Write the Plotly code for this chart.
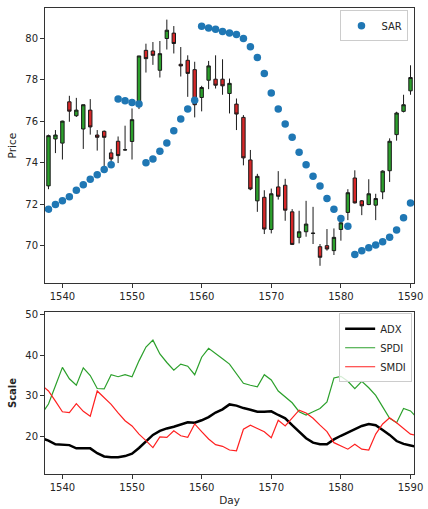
import plotly.graph_objects as go
from plotly.subplots import make_subplots

days = list(range(1538, 1591))

opens = [72.88, 75.14, 74.94, 76.93, 76.26, 75.62, 76.53, 75.33, 75.51, 74.47,
         75.03, 74.61, 75.02, 76.90, 79.41, 79.38, 78.45, 79.98, 80.24, 78.74,
         78.93, 78.48, 77.14, 77.97, 78.02, 78.02, 77.33, 76.82, 76.18, 74.13,
         72.16, 72.33, 70.78, 72.83, 72.91, 71.63, 70.40, 70.67, 70.59, 69.95,
         70.00, 69.76, 70.78, 71.60, 73.26, 72.16, 71.98, 71.95, 72.59, 73.61,
         75.35, 76.47, 77.46]
highs = [75.35, 75.57, 76.02, 77.22, 77.12, 76.80, 77.06, 75.57, 75.55, 74.66,
         75.26, 75.78, 76.61, 79.14, 79.73, 79.81, 79.86, 80.89, 80.58, 79.57,
         79.17, 78.86, 77.70, 78.90, 79.17, 78.98, 78.05, 77.09, 76.29, 74.61,
         73.46, 72.67, 72.75, 73.59, 73.22, 71.76, 71.68, 72.16, 71.87, 70.08,
         70.80, 70.83, 71.39, 72.72, 73.63, 72.20, 73.20, 72.50, 73.63, 75.17,
         76.45, 77.27, 78.69]
lows = [72.72, 74.46, 74.15, 75.97, 76.20, 74.66, 75.35, 74.58, 73.82, 74.02,
        73.98, 74.58, 74.15, 76.58, 78.34, 78.71, 78.10, 79.45, 79.26, 78.15,
        77.17, 76.18, 76.47, 77.54, 77.57, 77.27, 76.37, 75.57, 73.87, 72.67,
        71.63, 70.56, 70.59, 72.22, 71.20, 70.03, 70.11, 70.43, 70.08, 69.03,
        69.76, 69.55, 70.24, 71.23, 72.03, 71.47, 71.95, 71.23, 72.24, 73.07,
        75.06, 76.42, 77.27]
closes = [75.30, 75.33, 76.00, 76.48, 76.53, 76.79, 75.72, 75.22, 75.22, 74.18,
          74.34, 74.62, 76.07, 79.14, 79.01, 79.17, 79.25, 80.38, 79.74, 78.66,
          78.30, 76.79, 77.62, 78.66, 77.73, 77.70, 77.82, 76.34, 74.23, 72.73,
          73.34, 70.80, 72.50, 72.38, 71.71, 70.06, 70.67, 71.04, 70.60, 69.44,
          69.84, 70.40, 71.10, 72.55, 72.06, 71.92, 72.50, 72.27, 73.59, 75.03,
          76.39, 76.79, 78.10]
sar = [71.76, 71.98, 72.16, 72.36, 72.67, 72.94, 73.20, 73.42, 73.67, 73.90,
       77.06, 76.98, 76.90, 76.82, 73.99, 74.18, 74.55, 74.95, 75.54, 76.10,
       76.58, 77.01, 80.57, 80.49, 80.43, 80.32, 80.24, 80.17, 79.98, 79.58,
       79.06, 78.30, 77.36, 76.58, 75.86, 75.22, 74.50, 73.90, 73.35, 72.87,
       72.27, 71.76, 71.31, 70.94, 69.58, 69.75, 69.90, 70.03, 70.19, 70.40,
       70.75, 71.34, 72.06]

ind_days = list(range(1537, 1592))
adx = [19.6, 19.0, 18.1, 18.0, 17.9, 17.1, 17.1, 17.1, 15.9, 15.1,
       14.9, 14.9, 15.2, 15.8, 17.2, 18.8, 20.4, 21.4, 22.0, 22.4,
       23.0, 23.5, 23.4, 24.0, 24.8, 25.9, 26.7, 27.9, 27.6, 27.0,
       26.6, 26.1, 26.1, 26.2, 25.3, 24.5, 22.8, 21.2, 19.6, 18.5,
       18.1, 18.1, 19.3, 20.2, 21.0, 21.6, 22.6, 23.1, 22.8, 21.6,
       20.4, 18.9, 18.2, 17.8, 17.4]
spdi = [25.5, 28.0, 32.5, 37.0, 34.2, 32.6, 36.9, 35.0, 31.8, 31.7,
        35.2, 34.7, 35.2, 34.7, 38.6, 42.0, 43.7, 40.3, 38.2, 36.3,
        37.8, 37.3, 35.2, 39.5, 41.7, 40.5, 39.1, 37.8, 35.4, 33.1,
        32.6, 32.2, 35.2, 33.9, 31.2, 29.7, 28.3, 26.1, 25.3, 26.1,
        26.9, 28.5, 34.4, 34.8, 33.6, 31.8, 33.6, 32.0, 30.1, 27.3,
        24.5, 23.4, 26.9, 26.3, 24.5]
smdi = [32.7, 31.2, 28.7, 26.1, 25.9, 28.1, 26.2, 25.0, 31.2, 29.6,
        27.9, 25.8, 23.9, 22.6, 20.6, 19.0, 17.3, 19.9, 19.8, 21.4,
        20.2, 19.8, 23.1, 21.2, 19.4, 18.0, 17.6, 16.7, 16.5, 21.8,
        22.8, 22.0, 21.2, 19.7, 24.0, 22.6, 24.5, 26.5, 25.8, 24.5,
        22.8, 21.2, 18.5, 17.6, 16.9, 18.1, 16.9, 16.7, 20.6, 23.1,
        24.6, 23.4, 22.0, 20.6, 20.2]

xticks = [1540, 1550, 1560, 1570, 1580, 1590]
price_ticks = [70, 72, 74, 76, 78, 80]
scale_ticks = [20, 30, 40, 50]

FONT = "DejaVu Sans"
fig = make_subplots(rows=2, cols=1, vertical_spacing=0.0)

fig.add_trace(go.Candlestick(
    x=days, open=opens, high=highs, low=lows, close=closes,
    increasing=dict(fillcolor="#2ca02c", line=dict(color="#1a1a1a", width=1)),
    decreasing=dict(fillcolor="#d62728", line=dict(color="#1a1a1a", width=1)),
    whiskerwidth=0, showlegend=False, name="Price"), row=1, col=1)

fig.add_trace(go.Scatter(
    x=days, y=sar, mode="markers", name="SAR",
    marker=dict(color="#1f77b4", size=7.5), legend="legend"), row=1, col=1)

fig.add_trace(go.Scatter(x=ind_days, y=adx, mode="lines", name="ADX",
                         line=dict(color="black", width=2.5), legend="legend2"), row=2, col=1)
fig.add_trace(go.Scatter(x=ind_days, y=spdi, mode="lines", name="SPDI",
                         line=dict(color="#2ca02c", width=1.2), legend="legend2"), row=2, col=1)
fig.add_trace(go.Scatter(x=ind_days, y=smdi, mode="lines", name="SMDI",
                         line=dict(color="#ff2020", width=1.2), legend="legend2"), row=2, col=1)

axis_common = dict(showline=True, linecolor="#333", linewidth=1, mirror=True,
                   ticks="outside", ticklen=4, tickcolor="#333", showgrid=False,
                   zeroline=False, tickfont=dict(family=FONT, size=10, color="#262626"))

H = 469.0
top_lo = (474 - 282) / H
bot_hi = (474 - 311) / H

fig.update_layout(
    width=428, height=509,
    margin=dict(l=45, r=10, t=5, b=35),
    paper_bgcolor="white", plot_bgcolor="white",
    font=dict(family=FONT, size=10, color="#262626"),
    xaxis=dict(domain=[0, 1], range=[1537.5, 1590.5], tickvals=xticks,
               rangeslider=dict(visible=False), **axis_common),
    xaxis2=dict(domain=[0, 1], range=[1537.5, 1590.5], tickvals=xticks,
                title=dict(text="Day", font=dict(family=FONT, size=10.5, color="#262626"), standoff=4),
                **axis_common),
    yaxis=dict(domain=[top_lo, 1], range=[68.19, 81.45], tickvals=price_ticks,
               title=dict(text="Price", font=dict(family=FONT, size=10.5, color="#262626"), standoff=6),
               **axis_common),
    yaxis2=dict(domain=[0, bot_hi], range=[10.8, 50.6], tickvals=scale_ticks,
                title=dict(text="<b>Scale</b>", font=dict(family=FONT, size=10, color="#262626"), standoff=6),
                **axis_common),
    legend=dict(x=0.985, y=0.995, xanchor="right", yanchor="top",
                bgcolor="rgba(255,255,255,0.8)", bordercolor="#ccc", borderwidth=1,
                font=dict(family=FONT, size=10, color="#262626")),
    legend2=dict(x=0.995, y=0.345, xanchor="right", yanchor="top",
                 bgcolor="rgba(255,255,255,0.8)", bordercolor="#ccc", borderwidth=1,
                 font=dict(family=FONT, size=10, color="#262626"), itemwidth=30,
                 tracegroupgap=0),
)

fig.write_html("out.html", config={"displayModeBar": False},
               post_script="document.body.style.margin='0';")
